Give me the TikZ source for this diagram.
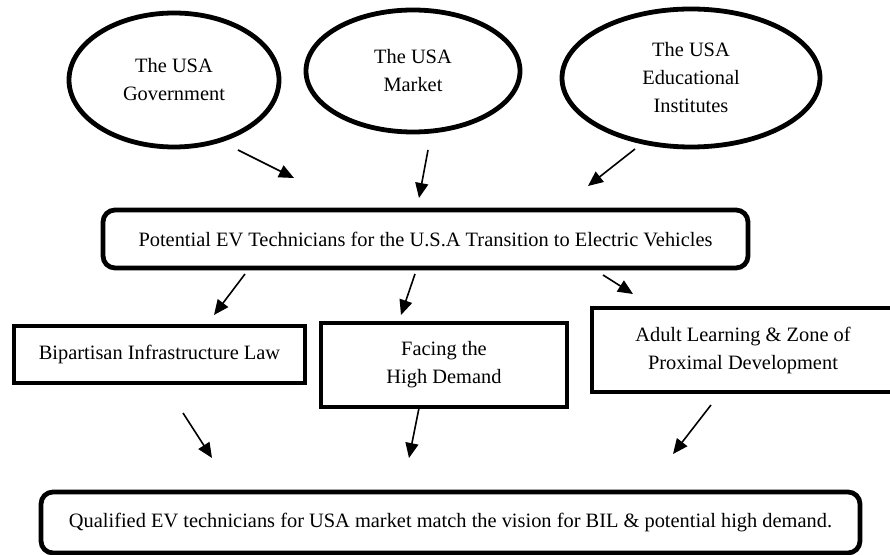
\documentclass[tikz,border=0pt]{standalone}
\usepackage{fontspec}
\setmainfont{Liberation Serif}
\usetikzlibrary{shapes.geometric,arrows.meta}
\begin{document}
\begin{tikzpicture}[x=0.5pt,y=-0.5pt,
  txt/.style={align=center,inner sep=0pt,font=\fontsize{10.2}{14}\selectfont},
  bubble/.style={txt,ellipse,draw,line width=2.4pt},
  framebox/.style={txt,rectangle,draw,line width=2.4pt},
  roundbox/.style={framebox,rounded corners=6pt},
  flow/.style={line width=0.8pt,-{Triangle[length=7.5pt,width=6.5pt]}}]
\useasboundingbox (0,0) rectangle (890,555);
% sources
\node[bubble,minimum width=105pt,minimum height=67pt] (gov) at (174,80) {The USA\\Government};
\node[bubble,minimum width=107pt,minimum height=61pt] (market) at (413,71) {The USA\\Market};
\node[bubble,minimum width=129pt,minimum height=69pt] (edu) at (691,78) {The USA\\Educational\\Institutes};
% central box
\node[roundbox,minimum width=322.5pt,minimum height=29pt] (potential) at (425.5,239) {Potential EV Technicians for the U.S.A Transition to Electric Vehicles};
% factors
\node[framebox,minimum width=145.5pt,minimum height=28.5pt] (bil) at (159.5,354.5) {Bipartisan Infrastructure Law};
\node[framebox,minimum width=123pt,minimum height=42pt] (demand) at (444,365) {Facing the\\High Demand};
\node[framebox,minimum width=151pt,minimum height=42pt] (adult) at (743,350) {Adult Learning \& Zone of\\Proximal Development};
% outcome
\node[roundbox,minimum width=409.5pt,minimum height=30.5pt] (qualified) at (450.5,522.5) {Qualified EV technicians for USA market match the vision for BIL \& potential high demand.};
% arrow ends
\coordinate (gov-s) at (238,150);   \coordinate (gov-e) at (294,178);
\coordinate (market-s) at (428,150); \coordinate (market-e) at (419,198);
\coordinate (edu-s) at (635,149);   \coordinate (edu-e) at (588,186);
\coordinate (pot-a) at (245,274);   \coordinate (bil-e) at (214,315);
\coordinate (pot-b) at (415,274);   \coordinate (demand-e) at (401,315);
\coordinate (pot-c) at (603,275);   \coordinate (adult-e) at (633,294);
\coordinate (bil-s) at (183,413);   \coordinate (q-a) at (212,458);
\coordinate (demand-s) at (419,408); \coordinate (q-b) at (409,458);
\coordinate (adult-s) at (711,405); \coordinate (q-c) at (673,454);
\draw[flow] (gov-s) -- (gov-e);
\draw[flow] (market-s) -- (market-e);
\draw[flow] (edu-s) -- (edu-e);
\draw[flow] (pot-a) -- (bil-e);
\draw[flow] (pot-b) -- (demand-e);
\draw[flow] (pot-c) -- (adult-e);
\draw[flow] (bil-s) -- (q-a);
\draw[flow] (demand-s) -- (q-b);
\draw[flow] (adult-s) -- (q-c);
\end{tikzpicture}
\end{document}
